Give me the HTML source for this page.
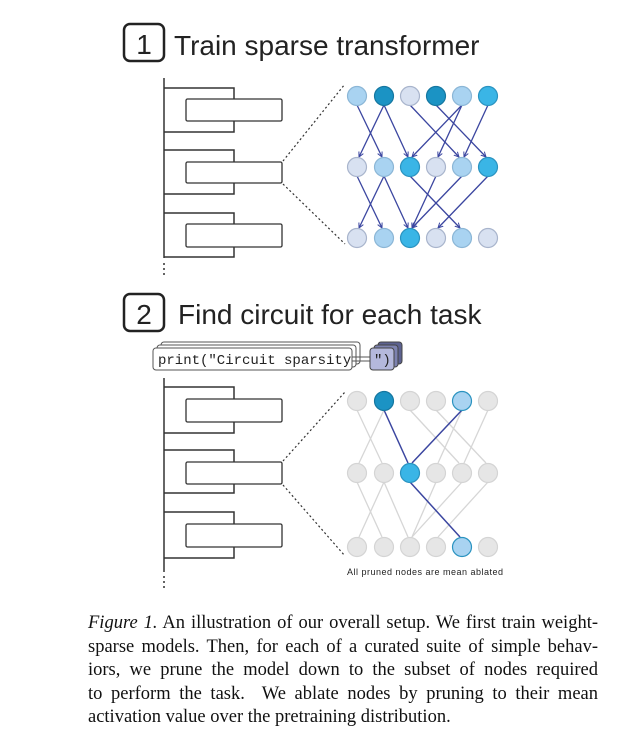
<!DOCTYPE html>
<html><head><meta charset="utf-8"><style>
html,body{margin:0;padding:0;background:#fff;}
body{width:640px;height:753px;position:relative;overflow:hidden;}
.cap{position:absolute;left:88px;width:510px;font-family:"Liberation Serif",serif;font-size:18.5px;color:#111;text-align:justify;text-align-last:justify;white-space:nowrap;line-height:20px;}
.cap.last{text-align-last:left;}
</style></head><body>
<svg width="640" height="600" style="position:absolute;left:0;top:0" xmlns="http://www.w3.org/2000/svg">
<defs>
<marker id="ab" markerWidth="6" markerHeight="6" refX="5" refY="3" orient="auto" markerUnits="userSpaceOnUse"><path d="M0,0.5 L5,3 L0,5.5" fill="none" stroke="#3b46a0" stroke-width="1"/></marker>
<marker id="ag" markerWidth="6" markerHeight="6" refX="5" refY="3" orient="auto" markerUnits="userSpaceOnUse"><path d="M0,0.5 L5,3 L0,5.5" fill="none" stroke="#d6d6d6" stroke-width="1"/></marker>
</defs>
<g font-family="Liberation Sans, sans-serif" fill="#222">
<rect x="124" y="24" width="40" height="37" rx="6" fill="none" stroke="#222" stroke-width="2.5"/>
<text x="144" y="54" font-size="28" text-anchor="middle">1</text>
<text x="174" y="55" font-size="28">Train sparse transformer</text>
<rect x="124" y="294" width="40" height="37" rx="6" fill="none" stroke="#222" stroke-width="2.5"/>
<text x="144" y="324" font-size="28" text-anchor="middle">2</text>
<text x="178" y="324" font-size="28">Find circuit for each task</text>
</g>
<!-- left columns -->
<g stroke="#333" stroke-width="1.5" fill="none">
<line x1="164" y1="78" x2="164" y2="258"/>
<path d="M164 88 H234 V132 H164"/><path d="M164 150 H234 V194 H164"/><path d="M164 213 H234 V257 H164"/>
<line x1="164" y1="378" x2="164" y2="572"/>
<path d="M164 387 H234 V433 H164"/><path d="M164 450 H234 V493 H164"/><path d="M164 512 H234 V558 H164"/>
</g>
<g stroke="#333" stroke-width="1.3" fill="#fff">
<rect x="186" y="99" width="96" height="22" rx="1.5"/><rect x="186" y="162" width="96" height="21" rx="1.5"/><rect x="186" y="224" width="96" height="23" rx="1.5"/>
<rect x="186" y="399" width="96" height="23" rx="1.5"/><rect x="186" y="462" width="96" height="22" rx="1.5"/><rect x="186" y="524" width="96" height="23" rx="1.5"/>
</g>
<g fill="#333"><circle cx="164" cy="264" r="1"/><circle cx="164" cy="269" r="1"/><circle cx="164" cy="274" r="1"/>
<circle cx="164" cy="577" r="1"/><circle cx="164" cy="582" r="1"/><circle cx="164" cy="587" r="1"/></g>
<g stroke="#333" stroke-width="1.2" stroke-dasharray="2,2.5">
<line x1="283" y1="161" x2="345" y2="84"/><line x1="283" y1="184" x2="345" y2="244"/>
<line x1="283" y1="461" x2="345" y2="392"/><line x1="283" y1="485" x2="345" y2="556"/>
</g>
<!-- code box -->
<g>
<rect x="161" y="342" width="199" height="22" rx="3" fill="#fff" stroke="#555"/>
<rect x="157" y="345" width="199" height="22" rx="3" fill="#fff" stroke="#555"/>
<rect x="153" y="348" width="199" height="22" rx="3" fill="#fff" stroke="#555"/>
<text x="158" y="364" font-family="Liberation Mono, monospace" font-size="14" fill="#222">print("Circuit sparsity</text>
<line x1="352" y1="357" x2="371" y2="357" stroke="#555"/><line x1="352" y1="361" x2="371" y2="361" stroke="#555"/>
<rect x="378" y="342" width="24" height="22" rx="3" fill="#5d6290" stroke="#444"/>
<rect x="374" y="345" width="24" height="22" rx="3" fill="#7d82b0" stroke="#444"/>
<rect x="370" y="348" width="24" height="22" rx="3" fill="#b4b8dc" stroke="#444"/>
<text x="374" y="364" font-family="Liberation Mono, monospace" font-size="14" fill="#222">")</text>
</g>
<!-- panel 1 edges -->
<g stroke="#3b46a0" stroke-width="1.3" marker-end="url(#ab)">
<line x1="357" y1="105" x2="382" y2="157"/><line x1="384" y1="105" x2="359" y2="157"/>
<line x1="384" y1="105" x2="408" y2="157"/><line x1="410" y1="105" x2="459" y2="157"/>
<line x1="436" y1="105" x2="486" y2="157"/><line x1="462" y1="105" x2="412" y2="157"/>
<line x1="462" y1="105" x2="438" y2="157"/><line x1="488" y1="105" x2="464" y2="157"/>
<line x1="357" y1="176" x2="382" y2="228"/><line x1="384" y1="176" x2="359" y2="228"/>
<line x1="384" y1="176" x2="408" y2="228"/><line x1="410" y1="176" x2="460" y2="228"/>
<line x1="436" y1="176" x2="412" y2="228"/><line x1="462" y1="176" x2="412" y2="228"/>
<line x1="488" y1="176" x2="438" y2="228"/>
</g>
<!-- panel 2 gray edges -->
<g stroke="#d6d6d6" stroke-width="1.3">
<line x1="357" y1="410" x2="382" y2="463"/><line x1="384" y1="410" x2="359" y2="463"/>
<line x1="410" y1="410" x2="459" y2="463"/><line x1="436" y1="410" x2="486" y2="463"/>
<line x1="462" y1="410" x2="438" y2="463"/><line x1="488" y1="410" x2="464" y2="463"/>
<line x1="357" y1="482" x2="382" y2="537"/><line x1="384" y1="482" x2="359" y2="537"/>
<line x1="384" y1="482" x2="408" y2="537"/><line x1="436" y1="482" x2="412" y2="537"/>
<line x1="462" y1="482" x2="412" y2="537"/><line x1="488" y1="482" x2="438" y2="537"/>
</g>
<g stroke="#3b46a0" stroke-width="1.5">
<line x1="384" y1="410" x2="408" y2="463"/><line x1="462" y1="410" x2="412" y2="463"/>
<line x1="410" y1="482" x2="460" y2="537"/>
</g>
<!-- nodes -->
<g stroke-width="1.2">
<circle cx="357" cy="96" r="9.5" fill="#a9d3f1" stroke="#8bb6d6"/>
<circle cx="384" cy="96" r="9.5" fill="#1b93c4" stroke="#1677a0"/>
<circle cx="410" cy="96" r="9.5" fill="#d8e1f1" stroke="#a8b4cc"/>
<circle cx="436" cy="96" r="9.5" fill="#1b93c4" stroke="#1677a0"/>
<circle cx="462" cy="96" r="9.5" fill="#a9d3f1" stroke="#8bb6d6"/>
<circle cx="488" cy="96" r="9.5" fill="#3ab5e6" stroke="#2a93c0"/>
<circle cx="357" cy="167" r="9.5" fill="#d8e1f1" stroke="#a8b4cc"/>
<circle cx="384" cy="167" r="9.5" fill="#a9d3f1" stroke="#8bb6d6"/>
<circle cx="410" cy="167" r="9.5" fill="#3ab5e6" stroke="#2a93c0"/>
<circle cx="436" cy="167" r="9.5" fill="#d8e1f1" stroke="#a8b4cc"/>
<circle cx="462" cy="167" r="9.5" fill="#a9d3f1" stroke="#8bb6d6"/>
<circle cx="488" cy="167" r="9.5" fill="#3ab5e6" stroke="#2a93c0"/>
<circle cx="357" cy="238" r="9.5" fill="#d8e1f1" stroke="#a8b4cc"/>
<circle cx="384" cy="238" r="9.5" fill="#a9d3f1" stroke="#8bb6d6"/>
<circle cx="410" cy="238" r="9.5" fill="#3ab5e6" stroke="#2a93c0"/>
<circle cx="436" cy="238" r="9.5" fill="#d8e1f1" stroke="#a8b4cc"/>
<circle cx="462" cy="238" r="9.5" fill="#a9d3f1" stroke="#8bb6d6"/>
<circle cx="488" cy="238" r="9.5" fill="#d8e1f1" stroke="#a8b4cc"/>
</g>
<g fill="#e6e6e6" stroke="#d4d4d4" stroke-width="1.2">
<circle cx="357" cy="401" r="9.5"/><circle cx="410" cy="401" r="9.5"/><circle cx="436" cy="401" r="9.5"/><circle cx="488" cy="401" r="9.5"/>
<circle cx="357" cy="473" r="9.5"/><circle cx="384" cy="473" r="9.5"/><circle cx="436" cy="473" r="9.5"/><circle cx="462" cy="473" r="9.5"/><circle cx="488" cy="473" r="9.5"/>
<circle cx="357" cy="547" r="9.5"/><circle cx="384" cy="547" r="9.5"/><circle cx="410" cy="547" r="9.5"/><circle cx="436" cy="547" r="9.5"/><circle cx="488" cy="547" r="9.5"/>
</g>
<circle cx="384" cy="401" r="9.5" fill="#1b93c4" stroke="#1677a0" stroke-width="1.2"/>
<circle cx="462" cy="401" r="9.5" fill="#a9d3f1" stroke="#2a93c0" stroke-width="1.2"/>
<circle cx="410" cy="473" r="9.5" fill="#3ab5e6" stroke="#2a93c0" stroke-width="1.2"/>
<circle cx="462" cy="547" r="9.5" fill="#a9d3f1" stroke="#2a93c0" stroke-width="1.2"/>
<text x="347" y="575" font-family="Liberation Sans, sans-serif" font-size="9" fill="#222" textLength="156">All pruned nodes are mean ablated</text>
</svg>
<div class="cap" style="top:613px"><i>Figure 1.</i> An illustration of our overall setup. We first train weight-</div>
<div class="cap" style="top:637px">sparse models. Then, for each of a curated suite of simple behav-</div>
<div class="cap" style="top:660px">iors, we prune the model down to the subset of nodes required</div>
<div class="cap" style="top:684px">to perform the task.&nbsp; We ablate nodes by pruning to their mean</div>
<div class="cap last" style="top:707px">activation value over the pretraining distribution.</div>
</body></html>
